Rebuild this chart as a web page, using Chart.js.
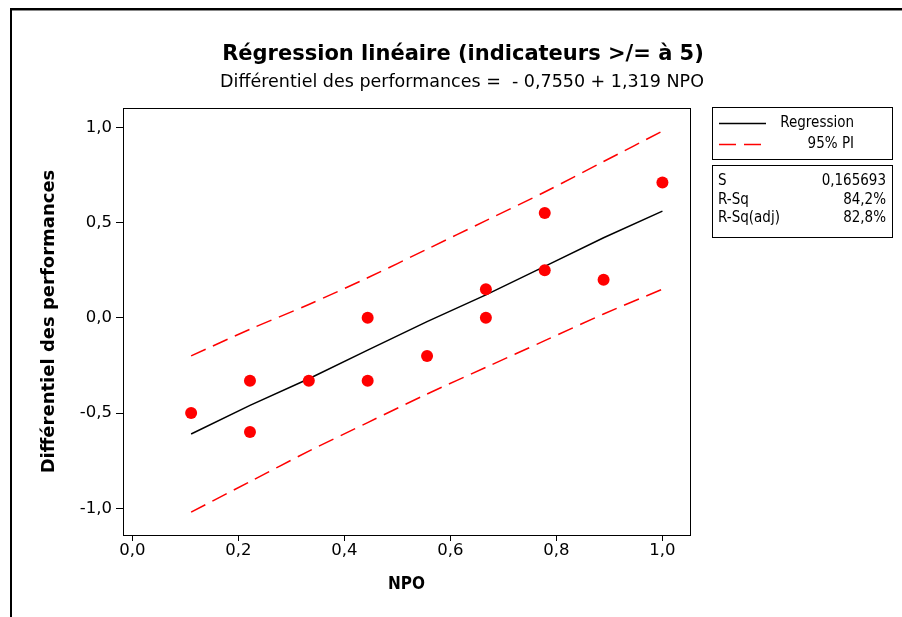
<!DOCTYPE html>
<html>
<head>
<meta charset="utf-8">
<script src="https://cdn.jsdelivr.net/npm/chart.js@4.4.1/dist/chart.umd.min.js"></script>
<style>
  html, body { margin: 0; padding: 0; background: #fff; }
  #wrap { position: relative; width: 902px; height: 617px; }
</style>
</head>
<body>
<div id="wrap"><canvas id="c" width="902" height="617"></canvas></div>
<script>
// ---- Data ----
const npo  = [0.111, 0.222, 0.222, 0.333, 0.444, 0.444, 0.556, 0.667, 0.667, 0.778, 0.778, 0.889, 1.0];
const diff = [-0.50, -0.33, -0.60, -0.33, 0.00, -0.33, -0.20, 0.15, 0.00, 0.55, 0.25, 0.20, 0.71];
const fitX    = [0.111, 0.222, 0.333, 0.444, 0.556, 0.667, 0.778, 0.889, 1.0];
const fitY    = [-0.61, -0.46, -0.32, -0.17, -0.02, 0.12, 0.27, 0.42, 0.56];
const piUpper = [-0.20, -0.06, 0.07, 0.21, 0.36, 0.51, 0.66, 0.82, 0.98];
const piLower = [-1.02, -0.86, -0.70, -0.55, -0.40, -0.26, -0.12, 0.02, 0.15];
const xTicks = [0.0, 0.2, 0.4, 0.6, 0.8, 1.0];
const yTicks = [-1.0, -0.5, 0.0, 0.5, 1.0];
const titleText = 'Régression linéaire (indicateurs >/= à 5)';
const subtitleText = 'Différentiel des performances =  - 0,7550 + 1,319 NPO';
const xTitle = 'NPO';
const yTitle = 'Différentiel des performances';
const legendLabels = ['Regression', '95% PI'];
const statNames = ['S', 'R-Sq', 'R-Sq(adj)'];
const statValues = ['0,165693', '84,2%', '82,8%'];

const FONT = '"DejaVu Sans", sans-serif';
const FONT_C = '"DejaVu Sans Condensed", "DejaVu Sans", sans-serif';
const fmt = v => v.toFixed(1).replace('.', ',');
const pts = (xs, ys) => xs.map((x, i) => ({x: x, y: ys[i]}));

const decor = {
  id: 'decor',
  afterDraw(chart) {
    const ctx = chart.ctx;
    const a = chart.chartArea;
    ctx.save();
    // outer frame (top and left edges)
    ctx.fillStyle = '#000';
    ctx.fillRect(10, 8, 892, 2);
    ctx.fillRect(10, 8, 2, 609);
    ctx.fillStyle = '#888';
    ctx.fillRect(12, 10, 890, 1);
    // plot frame
    ctx.strokeStyle = '#000';
    ctx.lineWidth = 1;
    ctx.strokeRect(Math.round(a.left) + 0.5, Math.round(a.top) + 0.5,
                   Math.round(a.right - a.left), Math.round(a.bottom - a.top));
    // titles
    ctx.fillStyle = '#000';
    ctx.textAlign = 'center';
    ctx.textBaseline = 'alphabetic';
    ctx.font = 'bold 21px ' + FONT;
    ctx.fillText(titleText, 463, 60);
    ctx.font = '17.5px ' + FONT;
    ctx.fillText(subtitleText, 462, 87);
    // legend box
    ctx.lineWidth = 1;
    ctx.strokeRect(712.5, 107.5, 180, 52);
    ctx.strokeRect(712.5, 165.5, 180, 72);
    ctx.beginPath();
    ctx.strokeStyle = '#000';
    ctx.lineWidth = 1.3;
    ctx.moveTo(719, 123.5); ctx.lineTo(766, 123.5);
    ctx.stroke();
    ctx.beginPath();
    ctx.strokeStyle = '#ff0000';
    ctx.setLineDash([17, 8]);
    ctx.moveTo(719, 144.5); ctx.lineTo(762, 144.5);
    ctx.stroke();
    ctx.setLineDash([]);
    ctx.font = '15px ' + FONT_C;
    ctx.fillStyle = '#000';
    ctx.textBaseline = 'middle';
    ctx.textAlign = 'right';
    ctx.fillText(legendLabels[0], 854, 123);
    ctx.fillText(legendLabels[1], 854, 144);
    const rowsY = [181, 200, 218];
    statNames.forEach((n, i) => {
      ctx.textAlign = 'left';
      ctx.fillText(n, 718, rowsY[i]);
      ctx.textAlign = 'right';
      ctx.fillText(statValues[i], 886, rowsY[i]);
    });
    ctx.restore();
  }
};

new Chart(document.getElementById('c'), {
  type: 'scatter',
  data: {
    datasets: [
      { label: 'Data', data: pts(npo, diff), order: 0,
        pointRadius: 6, pointHoverRadius: 6, backgroundColor: '#ff0000', borderColor: '#ff0000', borderWidth: 0 },
      { label: legendLabels[0], data: pts(fitX, fitY), order: 1, showLine: true,
        pointRadius: 0, borderColor: '#000', borderWidth: 1.5, tension: 0 },
      { label: legendLabels[1], data: pts(fitX, piUpper), order: 2, showLine: true,
        pointRadius: 0, borderColor: '#ff0000', borderWidth: 1.5, borderDash: [16, 8], tension: 0.3 },
      { label: legendLabels[1] + ' lower', data: pts(fitX, piLower), order: 3, showLine: true,
        pointRadius: 0, borderColor: '#ff0000', borderWidth: 1.5, borderDash: [16, 8], tension: 0.3 }
    ]
  },
  options: {
    responsive: false,
    animation: false,
    events: [],
    layout: { padding: { top: 108, right: 212, left: 0, bottom: 0 } },
    plugins: { legend: { display: false }, title: { display: false }, tooltip: { enabled: false } },
    scales: {
      x: {
        type: 'linear', position: 'bottom', min: -0.0175, max: 1.052,
        afterBuildTicks: s => { s.ticks = xTicks.map(v => ({ value: v })); },
        afterFit: s => { s.height = 82; },
        ticks: { autoSkip: false, maxRotation: 0, padding: 0, color: '#000',
                 font: { family: FONT, size: 16.5 }, callback: v => fmt(v) },
        grid: { display: true, drawOnChartArea: false, drawTicks: true, tickLength: 6, tickColor: '#000', tickWidth: 1 },
        border: { display: true, color: '#000', width: 1 },
        title: { display: true, text: xTitle, color: '#000',
                 font: { family: FONT_C, size: 17, weight: 'bold' }, padding: { top: 0, bottom: 22 } }
      },
      y: {
        type: 'linear', position: 'left', min: -1.14, max: 1.101,
        afterBuildTicks: s => { s.ticks = yTicks.map(v => ({ value: v })); },
        afterFit: s => { s.width = 123; },
        ticks: { autoSkip: false, padding: 4, color: '#000',
                 font: { family: FONT, size: 16.5 }, callback: v => fmt(v) },
        grid: { display: true, drawOnChartArea: false, drawTicks: true, tickLength: 7, tickColor: '#000', tickWidth: 1 },
        border: { display: true, color: '#000', width: 1 },
        title: { display: true, text: yTitle, color: '#000',
                 font: { family: FONT, size: 18, weight: 'bold' }, padding: { top: 39, bottom: 0 } }
      }
    }
  },
  plugins: [decor]
});
</script>
</body>
</html>
